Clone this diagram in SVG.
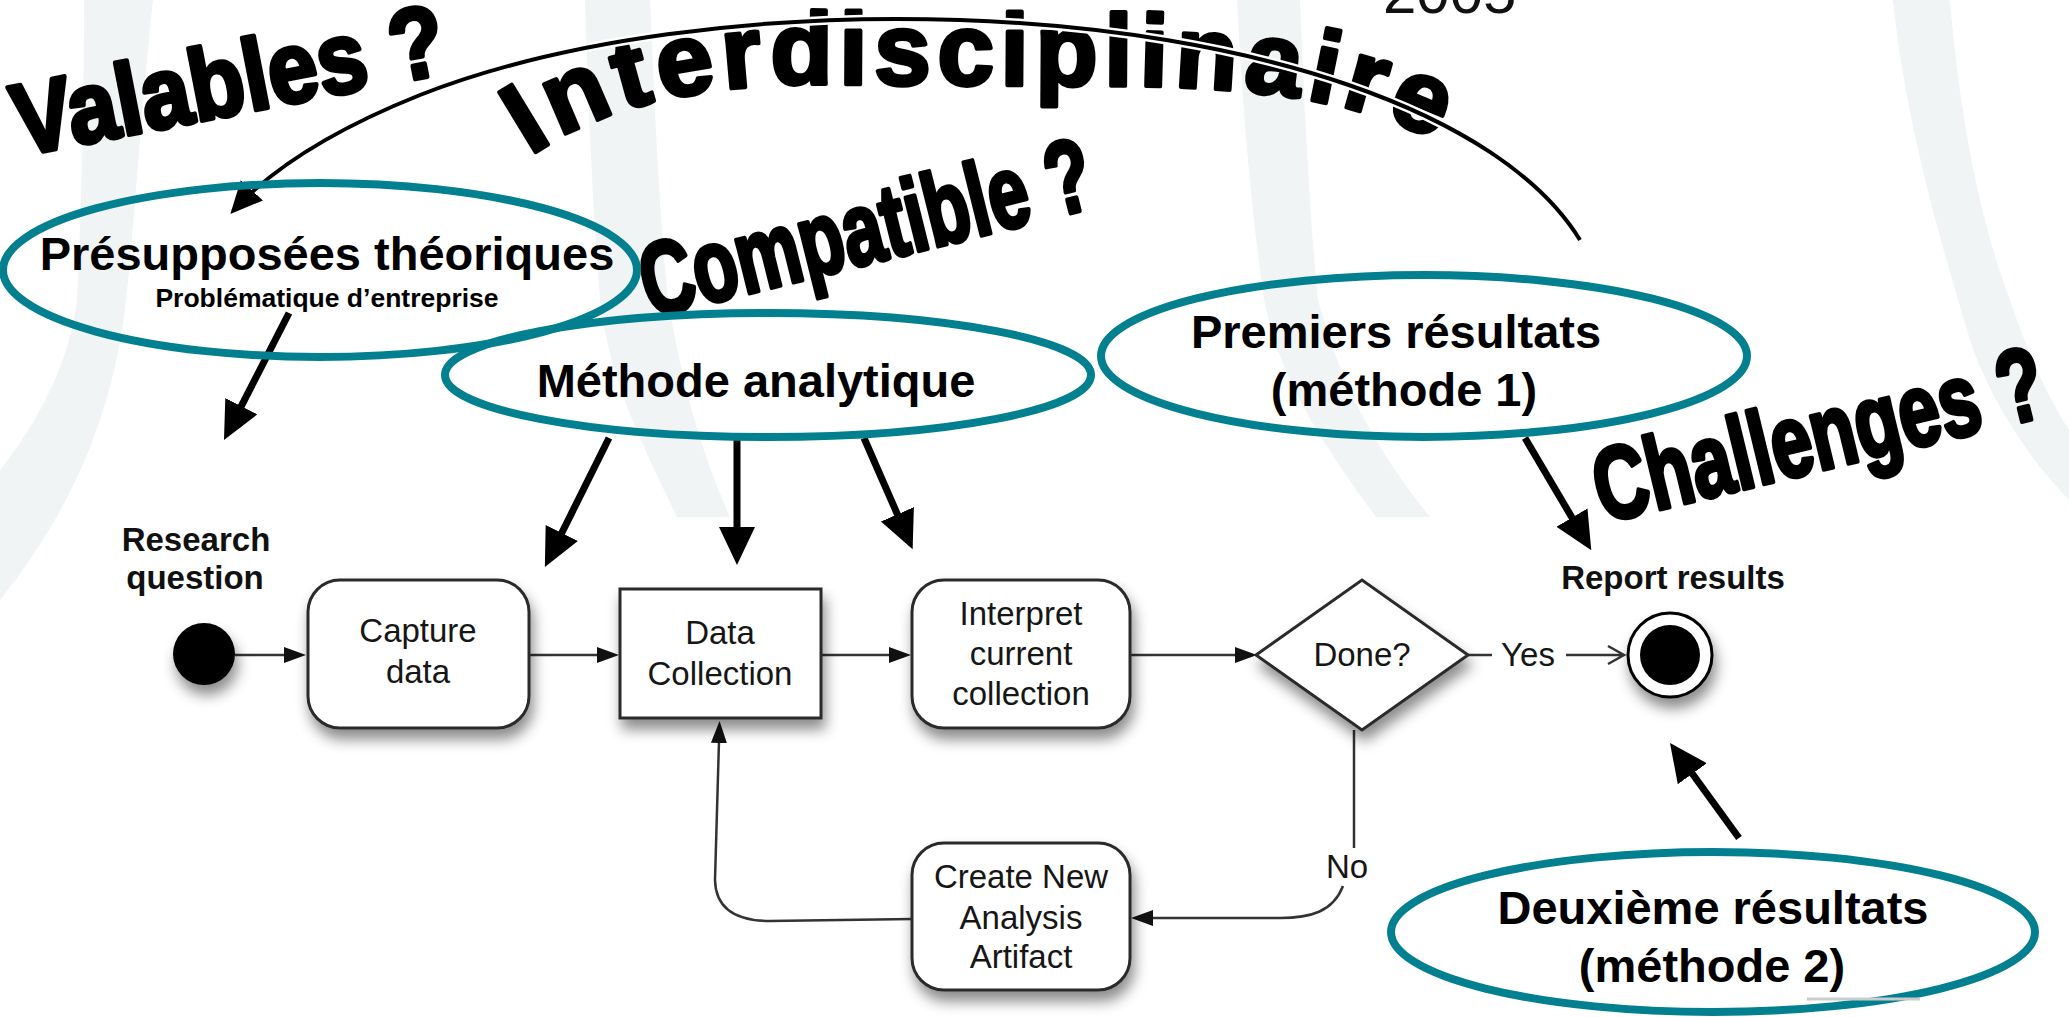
<svg xmlns="http://www.w3.org/2000/svg" width="2069" height="1017" viewBox="0 0 2069 1017">
<defs>
<style>
.wm{fill:#f0f4f5}
.ell{fill:none;stroke:#03808f;stroke-width:8}
.big{font-family:"Liberation Sans",Arial,sans-serif;font-weight:bold;fill:#000;stroke:#000;stroke-width:4;stroke-linejoin:round}
.lab{font-family:"Liberation Sans",Arial,sans-serif;font-weight:bold;fill:#000;text-anchor:middle}
.fc{font-family:"Liberation Sans",Arial,sans-serif;fill:#161616;font-size:33px;text-anchor:middle}
.fcb{font-family:"Liberation Sans",Arial,sans-serif;fill:#111;font-size:33px;font-weight:bold;text-anchor:middle}
.box{fill:#fff;stroke:#2a2a2a;stroke-width:3}
.thick{fill:none;stroke:#000;stroke-width:7}
.thin{fill:none;stroke:#333;stroke-width:2.5}
</style>
<marker id="bh" markerUnits="userSpaceOnUse" markerWidth="40" markerHeight="38" refX="4" refY="18" orient="auto"><path d="M0,0 L38,18 L0,36 z" fill="#000"/></marker>
<marker id="ch" markerUnits="userSpaceOnUse" markerWidth="34" markerHeight="32" refX="28" refY="15" orient="auto"><path d="M0,0 L32,15 L0,30 z" fill="#000"/></marker>
<marker id="ah" markerUnits="userSpaceOnUse" markerWidth="22" markerHeight="18" refX="2" refY="9" orient="auto"><path d="M0,1 L22,9 L0,17 z" fill="#111"/></marker>
<filter id="sh" x="-20%" y="-20%" width="150%" height="170%"><feDropShadow dx="3" dy="10" stdDeviation="7" flood-color="#000" flood-opacity="0.45"/></filter>
<path id="arcText" d="M530,156 C600,109 680,88 800,84 L1150,86 C1300,90 1385,108 1475,161"/>
</defs>
<rect width="2069" height="1017" fill="#fff"/>
<g id="watermark">
<path class="wm" d="M84,0 L153,0 C140,120 135,220 126,300 C115,400 80,500 0,600 L0,470 C40,420 70,360 77,300 C82,200 84,100 84,0 z"/>
<path class="wm" d="M585,0 L650,0 C655,120 660,220 668,300 C685,400 705,460 730,517 L677,517 C640,440 610,380 600,300 C592,200 588,100 585,0 z"/>
<path class="wm" d="M1237,0 L1300,0 C1305,120 1310,220 1318,300 C1345,400 1385,460 1430,517 L1376,517 C1320,440 1280,380 1264,300 C1250,200 1242,100 1237,0 z"/>
<path class="wm" d="M1893,0 L1950,0 C1960,120 1980,220 2010,300 C2030,360 2050,400 2069,430 L2069,500 C2030,460 1990,400 1970,340 C1940,240 1905,120 1893,0 z"/>
</g>
<g id="titles">
<text x="1383" y="13" font-family="Liberation Sans, Arial, sans-serif" font-size="60" fill="#111">2005</text>
<text class="big" font-size="102" letter-spacing="6.5"><textPath href="#arcText">Interdisciplinaire</textPath></text>
<text class="big" font-size="88" textLength="438" lengthAdjust="spacingAndGlyphs" transform="translate(20,156) rotate(-11) scale(1,1.15)">Valables ?</text>
<text class="big" font-size="90" textLength="462" lengthAdjust="spacingAndGlyphs" transform="translate(650,318) rotate(-14) scale(1,1.15)">Compatible ?</text>
<text class="big" font-size="90" textLength="460" lengthAdjust="spacingAndGlyphs" transform="translate(1603,523) rotate(-13.6) scale(1,1.15)">Challenges ?</text>
</g>
<g id="connectors">
<path d="M1580,240 C1500,110 1250,30 960,20 C760,13 560,40 420,95" fill="none" stroke="#fff" stroke-width="9"/>
<path d="M1580,240 C1500,110 1250,30 960,20 C760,13 560,40 420,95 C340,127 275,165 233,211" fill="none" stroke="#000" stroke-width="4" marker-end="url(#ch)"/>
<path class="thick" d="M289,313 L239.5,409.7" marker-end="url(#bh)"/>
<path class="thick" d="M609,438 L560,536.5" marker-end="url(#bh)"/>
<path class="thick" d="M737,440 L737,531" marker-end="url(#bh)"/>
<path class="thick" d="M864,438 L899,518" marker-end="url(#bh)"/>
<path class="thick" d="M1525,438 L1574,521" marker-end="url(#bh)"/>
<path class="thick" d="M1739,838 L1690,770.5" marker-end="url(#bh)"/>
<path class="thin" d="M235,655 L286,655" marker-end="url(#ah)"/>
<path class="thin" d="M529,655 L599,655" marker-end="url(#ah)"/>
<path class="thin" d="M821,655 L891,655" marker-end="url(#ah)"/>
<path class="thin" d="M1130,655 L1237,655" marker-end="url(#ah)"/>
<path class="thin" d="M1468,655 L1492,655"/>
<path class="thin" d="M1566,655 L1622,655 M1608,646 L1624,655 L1608,664"/>
<path class="thin" d="M1354,730 L1354,848"/>
<path class="thin" d="M1343,886 C1333,912 1310,918 1280,918 L1151,918" marker-end="url(#ah)"/>
<path class="thin" d="M912,919 L770,921 Q716,921 715,880 L719,741" marker-end="url(#ah)"/>
</g>
<g id="n-presupposees">
<ellipse class="ell" cx="320" cy="270" rx="317" ry="87"/>
<text class="lab" font-size="47" x="327" y="270">Présupposées théoriques</text>
<text class="lab" font-size="26.5" x="327" y="307">Problématique d’entreprise</text>
</g>
<g id="n-methode">
<ellipse class="ell" cx="768" cy="375" rx="323" ry="62"/>
<text class="lab" font-size="47" x="756" y="397">Méthode analytique</text>
</g>
<g id="n-premiers">
<ellipse class="ell" cx="1424" cy="356" rx="323" ry="81"/>
<text class="lab" font-size="47" x="1396" y="348">Premiers résultats</text>
<text class="lab" font-size="47" x="1404" y="406">(méthode 1)</text>
</g>
<g id="n-deuxieme">
<ellipse class="ell" cx="1713" cy="932" rx="322" ry="80"/>
<line x1="1807" y1="999" x2="1920" y2="999" stroke="#ccc" stroke-width="3"/>
<text class="lab" font-size="47" x="1713" y="924">Deuxième résultats</text>
<text class="lab" font-size="47" x="1712" y="982">(méthode 2)</text>
</g>
<g id="n-start">
<text class="fcb" x="196" y="551">Research</text>
<text class="fcb" x="195" y="589">question</text>
<circle cx="204" cy="654" r="31" fill="#000" filter="url(#sh)"/>
</g>
<g id="n-capture">
<rect class="box" x="308" y="580" width="221" height="148" rx="32" filter="url(#sh)"/>
<text class="fc" x="418" y="642">Capture</text>
<text class="fc" x="418" y="683">data</text>
</g>
<g id="n-data">
<rect class="box" x="620" y="589" width="201" height="129" filter="url(#sh)"/>
<text class="fc" x="720" y="644">Data</text>
<text class="fc" x="720" y="685">Collection</text>
</g>
<g id="n-interpret">
<rect class="box" x="912" y="580" width="218" height="148" rx="32" filter="url(#sh)"/>
<text class="fc" x="1021" y="625">Interpret</text>
<text class="fc" x="1021" y="665">current</text>
<text class="fc" x="1021" y="705">collection</text>
</g>
<g id="n-done">
<polygon class="box" points="1256,655 1362,580 1468,655 1362,730" filter="url(#sh)"/>
<text class="fc" x="1362" y="666">Done?</text>
<text class="fc" x="1528" y="666">Yes</text>
<text class="fc" x="1347" y="878">No</text>
</g>
<g id="n-create">
<rect class="box" x="912" y="843" width="218" height="147" rx="32" filter="url(#sh)"/>
<text class="fc" x="1021" y="888">Create New</text>
<text class="fc" x="1021" y="929">Analysis</text>
<text class="fc" x="1021" y="968">Artifact</text>
</g>
<g id="n-end">
<text class="fcb" x="1673" y="589">Report results</text>
<circle cx="1670" cy="655" r="42" fill="#fff" stroke="#000" stroke-width="3" filter="url(#sh)"/>
<circle cx="1670" cy="655" r="30" fill="#000"/>
</g>
</svg>
